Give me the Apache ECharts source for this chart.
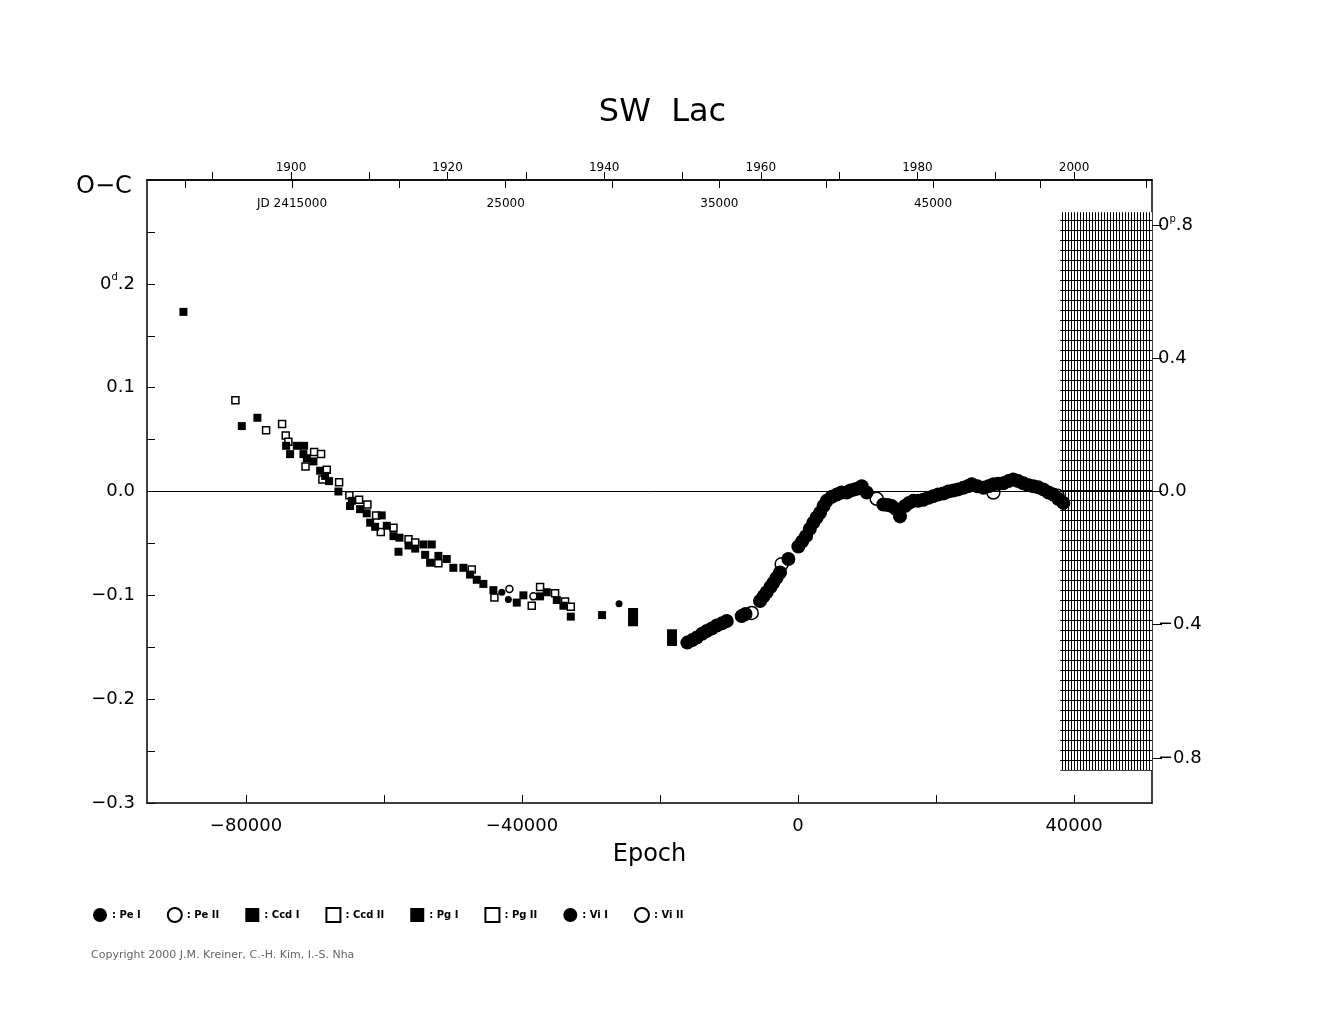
<!DOCTYPE html>
<html>
<head>
<meta charset="utf-8">
<script src="https://cdn.jsdelivr.net/npm/echarts@6/dist/echarts.min.js"></script>
<style>html,body{margin:0;background:#fff}#c{width:1325px;height:1020px}</style>
</head>
<body>
<div id="c"></div>
<script>
// O-C data [epoch, O-C days]
const peI = [[-16040,-0.1455],[-15300,-0.143],[-14680,-0.1407],[-13900,-0.137],[-13230,-0.1343],[-12500,-0.132],[-11780,-0.129],[-11000,-0.127],[-10330,-0.1247],[-8160,-0.12],[-7600,-0.118],[-5510,-0.1055],[-5000,-0.101],[-4540,-0.097],[-4000,-0.092],[-3580,-0.088],[-3100,-0.083],[-2610,-0.078],[-1400,-0.065],[50,-0.053],[600,-0.048],[1160,-0.043],[1700,-0.036],[2220,-0.030],[2700,-0.025],[3190,-0.0205],[3700,-0.014],[4160,-0.009],[4900,-0.005],[5610,-0.003],[6300,-0.001],[7060,-0.001],[7600,0.001],[8200,0.002],[8700,0.003],[9230,0.005],[9950,-0.001],[12360,-0.0125],[13000,-0.013],[13570,-0.014],[14200,-0.017],[14780,-0.024],[15500,-0.014],[16100,-0.011],[16710,-0.009],[17400,-0.009],[18160,-0.008],[18900,-0.006],[19610,-0.0045],[20300,-0.003],[21060,-0.002],[21800,0.000],[22510,0.001],[23200,0.002],[23960,0.0035],[24600,0.005],[25170,0.007],[26000,0.005],[26860,0.0035],[27600,0.005],[28310,0.007],[29000,0.0075],[29750,0.008],[30500,0.010],[31200,0.0115],[31900,0.010],[32650,0.008],[33400,0.006],[34100,0.005],[34800,0.004],[35550,0.002],[36300,-0.001],[37000,-0.003],[37700,-0.007],[38450,-0.011]];
const peII = [[-6710,-0.117],[-2370,-0.070],[11400,-0.007],[28310,-0.001],[37600,-0.004]];
const ccdI = [[-23910,-0.117],[-23910,-0.125],[-18260,-0.1375],[-18260,-0.144]];
const ccdII = [];
const pgI = [[-89070,0.173],[-80610,0.063],[-78350,0.071],[-74190,0.044],[-73610,0.036],[-72640,0.044],[-71580,0.044],[-71680,0.036],[-71190,0.032],[-70230,0.029],[-69260,0.020],[-68540,0.015],[-67960,0.010],[-66610,0.000],[-64670,-0.009],[-64920,-0.014],[-63470,-0.017],[-62510,-0.021],[-62010,-0.030],[-60330,-0.023],[-61290,-0.034],[-59600,-0.033],[-58630,-0.043],[-57760,-0.0445],[-57900,-0.058],[-56450,-0.052],[-55480,-0.055],[-54280,-0.051],[-53080,-0.051],[-54040,-0.061],[-53320,-0.0686],[-52120,-0.062],[-50910,-0.065],[-49950,-0.0735],[-48500,-0.0735],[-47530,-0.080],[-46560,-0.085],[-45600,-0.089],[-44150,-0.095],[-40760,-0.107],[-39800,-0.100],[-37380,-0.101],[-36420,-0.097],[-34960,-0.1045],[-34000,-0.110],[-32930,-0.1205],[-28400,-0.119]];
const pgII = [[-81540,0.088],[-77090,0.059],[-74770,0.065],[-74240,0.054],[-73860,0.048],[-70130,0.038],[-69120,0.036],[-71380,0.024],[-68300,0.021],[-68930,0.0115],[-66510,0.009],[-65020,-0.0035],[-63610,-0.008],[-62410,-0.0125],[-61150,-0.023],[-60470,-0.039],[-58630,-0.035],[-56450,-0.046],[-55480,-0.049],[-52120,-0.069],[-47290,-0.075],[-44000,-0.102],[-38590,-0.110],[-37380,-0.092],[-35210,-0.098],[-33760,-0.106],[-32930,-0.111]];
const viI = [[-42930,-0.097],[-41980,-0.104],[-25940,-0.108]];
const viII = [[-41830,-0.094],[-38350,-0.101]];

const epochTicks = [-80000,-60000,-40000,-20000,0,20000,40000];
const epochLabels = [-80000,-40000,0,40000];
const yearTicks = [1890,1900,1910,1920,1930,1940,1950,1960,1970,1980,1990,2000];
const yearLabels = [1900,1920,1940,1960,1980,2000];
const jdTicks = [10000,15000,20000,25000,30000,35000,40000,45000,50000,55000];
const jdLabels = [15000,25000,35000,45000];
const ocTicks = [-0.3,-0.25,-0.2,-0.15,-0.1,-0.05,0,0.05,0.1,0.15,0.2,0.25];
const ocLabels = [-0.3,-0.2,-0.1,0,0.1,0.2];
const phLabels = [-0.8,-0.4,0,0.4,0.8];

const P = 0.3207;
const yMin = -0.3, yMax = 0.3;

// hatch pattern for prediction area
const pat = document.createElement('canvas');
pat.width = 3; pat.height = 10;
const g = pat.getContext('2d');
g.fillStyle = '#fff'; g.fillRect(0, 0, 3, 10);
g.fillStyle = '#000'; g.fillRect(0, 0, 1, 10); g.fillRect(0, 0, 3, 1);

const font = 'DejaVu Sans';
const minus = v => String(v).replace('-', '\u2212');

const chart = echarts.init(document.getElementById('c'));
const mk = (name, data, symbol, size, filled) => ({
  name, type: 'scatter', data, symbol, symbolSize: size,
  itemStyle: filled ? {color: '#000', opacity: 1} : {color: '#fff', borderColor: '#000', borderWidth: 1.5, opacity: 1},
  z: filled ? 3 : 2
});

const line = {onZero: false, lineStyle: {color: '#000', width: 1.5}};

chart.setOption({
  animation: false,
  title: {text: 'SW  Lac', left: 'center', top: 92, textStyle: {fontFamily: font, fontSize: 32, fontWeight: 'normal', color: '#000'}},
  grid: {left: 147, right: 173, top: 180, bottom: 217},
  legend: {
    left: 88, top: 902, itemGap: 26, itemWidth: 14, itemHeight: 14,
    textStyle: {fontFamily: font, fontSize: 10, fontWeight: 'bold', color: '#000'},
    formatter: n => ': ' + n,
    data: ['Pe I','Pe II','Ccd I','Ccd II','Pg I','Pg II','Vi I','Vi II']
  },
  graphic: [
    {type: 'text', left: 76, top: 175, style: {text: 'O\u2212C', font: '24px ' + font, fill: '#000'}},
    {type: 'text', left: 91, top: 950, style: {text: 'Copyright 2000 J.M. Kreiner, C.-H. Kim, I.-S. Nha', font: '11px ' + font, fill: '#666'}}
  ],
  xAxis: [
    {type: 'value', min: -94350, max: 51300, position: 'bottom',
      name: 'Epoch', nameLocation: 'middle', nameGap: 40,
      nameTextStyle: {fontFamily: font, fontSize: 24, color: '#000'},
      axisLine: line,
      axisTick: {inside: true, length: 8, customValues: epochTicks, lineStyle: {color: '#000'}},
      axisLabel: {customValues: epochLabels, formatter: minus, fontFamily: font, fontSize: 18, color: '#000', margin: 14},
      splitLine: {show: false}},
    {type: 'value', min: 1881.61, max: 2009.96, position: 'top',
      axisLine: line,
      axisTick: {length: 8, customValues: yearTicks, lineStyle: {color: '#000'}},
      axisLabel: {customValues: yearLabels, formatter: v => String(v), fontFamily: font, fontSize: 12, color: '#000', margin: 6},
      splitLine: {show: false}},
    {type: 'value', min: 8211, max: 55250, position: 'top',
      axisLine: {show: true, onZero: false, lineStyle: {color: '#000', width: 1.5}},
      axisTick: {show: true, inside: true, length: 8, customValues: jdTicks, lineStyle: {color: '#000'}},
      axisLabel: {inside: true, customValues: jdLabels, margin: 18,
        formatter: v => v === 15000 ? 'JD 2415000' : String(v),
        fontFamily: font, fontSize: 12, color: '#000'},
      splitLine: {show: false}}
  ],
  yAxis: [
    {type: 'value', min: yMin, max: yMax,
      axisLine: Object.assign({show: true}, line),
      axisTick: {inside: true, length: 8, customValues: ocTicks, lineStyle: {color: '#000'}},
      axisLabel: {customValues: ocLabels, fontFamily: font, fontSize: 18, color: '#000', margin: 12,
        formatter: v => v === 0.2 ? '0{s|d}.2' : minus(v.toFixed(1)),
        rich: {s: {fontSize: 10, verticalAlign: 'top', padding: [0, 0, 12, 0], fontFamily: font}}},
      splitLine: {show: false}},
    {type: 'value', min: yMin / P, max: yMax / P, position: 'right',
      axisLine: Object.assign({show: true}, line),
      axisTick: {length: 10, customValues: phLabels, lineStyle: {color: '#000'}},
      axisLabel: {customValues: phLabels, fontFamily: font, fontSize: 18, color: '#000', margin: 6,
        formatter: v => v === 0.8 ? '0{s|p}.8' : minus(v.toFixed(1)),
        rich: {s: {fontSize: 10, verticalAlign: 'top', padding: [0, 0, 12, 0], fontFamily: font}}},
      splitLine: {show: false}}
  ],
  series: [
    {type: 'line', data: [], silent: true,
      markLine: {symbol: 'none', silent: true, label: {show: false},
        lineStyle: {color: '#000', width: 1, type: 'solid'}, data: [{yAxis: 0}]},
      markArea: {silent: true, itemStyle: {color: {image: pat, repeat: 'repeat'}},
        data: [[{xAxis: 38000, yAxis: -0.269}, {xAxis: 51300, yAxis: 0.269}]]}},
    mk('Pe I', peI, 'circle', 14, true),
    mk('Pe II', peII, 'circle', 13, false),
    mk('Ccd I', ccdI, 'rect', 10, true),
    mk('Ccd II', ccdII, 'rect', 10, false),
    mk('Pg I', pgI, 'rect', 8, true),
    mk('Pg II', pgII, 'rect', 7, false),
    mk('Vi I', viI, 'circle', 7, true),
    mk('Vi II', viII, 'circle', 7, false)
  ]
});
</script>
</body>
</html>
